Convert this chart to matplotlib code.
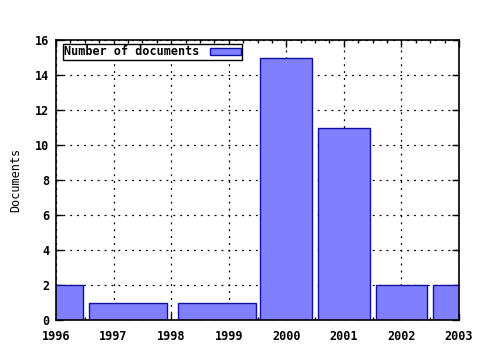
import matplotlib
matplotlib.use("Agg")
import matplotlib.pyplot as plt
from matplotlib.ticker import MultipleLocator

# valeurs
annees = [1996, 1997.25, 1998.8, 2000, 2001, 2002, 2003]
largeurs = [0.94, 1.345, 1.345, 0.9, 0.9, 0.9, 0.9]
documents = [2, 1, 1, 15, 11, 2, 2]

plt.rcParams['font.family'] = ['DejaVu Sans Mono']
plt.rcParams['font.weight'] = 'bold'
plt.rcParams['font.size'] = 8.5

fig = plt.figure(figsize=(4.8, 3.5), dpi=100)
ax = fig.add_axes([56/480, 30/350, 403/480, 280/350])

ax.bar(annees, documents, width=largeurs, color='#8080ff', edgecolor='#1010a0',
       linewidth=1.0, label='Number of documents', zorder=2)

ax.set_xlim(1996, 2003)
ax.set_ylim(0, 16)
ax.xaxis.set_major_locator(MultipleLocator(1))
ax.xaxis.set_minor_locator(MultipleLocator(0.25))
ax.yaxis.set_major_locator(MultipleLocator(2))
ax.tick_params(which='both', direction='in', top=True, right=True, width=1)
ax.tick_params(which='major', length=5, pad=5)
ax.tick_params(axis='x', which='major', pad=7)
ax.tick_params(which='minor', length=2.5)
ax.grid(True, which='major', linestyle=(0, (1.5, 4)), color='black', linewidth=0.9, zorder=1)
ax.set_axisbelow(True)
for s in ax.spines.values():
    s.set_linewidth(1.2)
    s.set_zorder(3)

ax.set_ylabel('Documents', labelpad=9)

leg = ax.legend(loc='upper left', bbox_to_anchor=(0.018, 0.985), markerfirst=False,
                fancybox=False, edgecolor='black', framealpha=1, borderpad=0.1,
                handlelength=2.6, handleheight=0.55, handletextpad=0.9, borderaxespad=0)
leg.get_frame().set_linewidth(1.0)

fig.savefig('out.png', dpi=100)
